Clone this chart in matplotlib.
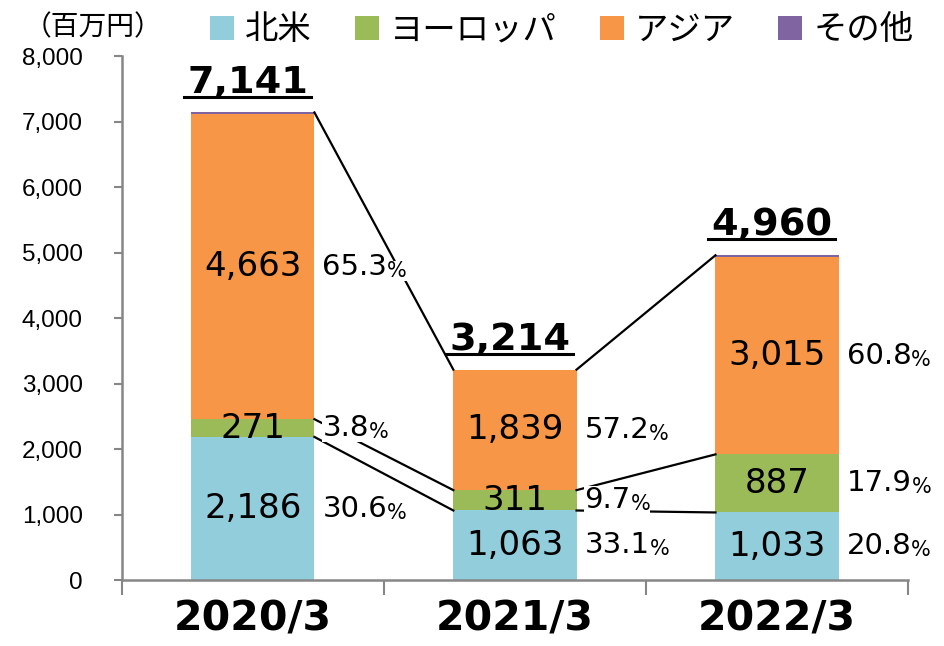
import matplotlib.pyplot as plt
from matplotlib.patches import Patch
from matplotlib.lines import Line2D

years = ['2020/3', '2021/3', '2022/3']
regions = ['北米', 'ヨーロッパ', 'アジア', 'その他']
north_america = [2186, 1063, 1033]
europe = [271, 311, 887]
asia = [4663, 1839, 3015]
other = [21, 1, 25]
totals = [7141, 3214, 4960]
pct_na = ['30.6', '33.1', '20.8']
pct_eu = ['3.8', '9.7', '17.9']
pct_asia = ['65.3', '57.2', '60.8']
colors = ['#92CDDC', '#9BBB59', '#F79646', '#8064A2']

jp = 'Noto Sans CJK JP'
num = 'DejaVu Sans'

fig = plt.figure(figsize=(9.44, 6.46), dpi=100)
ax = fig.add_axes([0.129, 0.102, 0.833, 0.811])

x = list(range(len(years)))
w = 0.47
series = [north_america, europe, asia, other]
bottoms = [0, 0, 0]
tops = []
for vals, c in zip(series, colors):
    ax.bar(x, vals, w, bottom=bottoms, color=c, zorder=2)
    bottoms = [b + v for b, v in zip(bottoms, vals)]
    tops.append(list(bottoms))

# values inside bars + percentages at right
base = [0, 0, 0]
for vals, pcts in zip([north_america, europe, asia], [pct_na, pct_eu, pct_asia]):
    for i in x:
        yc = base[i] + vals[i] / 2
        ax.text(i, yc, f'{vals[i]:,}', ha='center', va='center',
                fontsize=24.5, family=num, zorder=4)
        t = ax.text(i + w / 2 + 0.03, yc, pcts[i], ha='left', va='center',
                    fontsize=21, family=num, zorder=4,
                    bbox=dict(facecolor='white', edgecolor='none', pad=0))
        ax.annotate('%', xy=(1, 0), xycoords=t, ha='left', va='bottom',
                    fontsize=15, family=num, zorder=4,
                    bbox=dict(facecolor='white', edgecolor='none', pad=0))
    base = [b + v for b, v in zip(base, vals)]

# connecting lines
levels = [tops[0], tops[1], totals]
for i in range(len(years) - 1):
    for lv in levels:
        ax.plot([i + w / 2, i + 1 - w / 2], [lv[i], lv[i + 1]],
                color='black', lw=1.6, zorder=3)

# totals with underline
total_texts = []
for i in x:
    t = ax.text(i - 0.02, totals[i] + 180, f'{totals[i]:,}', ha='center', va='bottom',
                fontsize=27.5, fontweight='bold', family=num, zorder=4)
    total_texts.append(t)

ax.set_xlim(-0.5, 2.5)
ax.set_ylim(0, 8000)
ax.set_yticks(range(0, 8001, 1000))
ax.set_yticklabels([f'{v:,}' for v in range(0, 8001, 1000)],
                   family='Liberation Sans', fontsize=17.5)
ax.set_xticks(x)
ax.set_xticklabels(years, fontsize=29.5, fontweight='bold', family=num)
ax.set_xticks([-0.5, 0.5, 1.5, 2.5], minor=True)
ax.tick_params(axis='x', which='major', length=0, pad=14)
ax.tick_params(axis='x', which='minor', length=11, width=1.5, color='#868686')
ax.tick_params(axis='y', length=6, width=1.5, color='#868686', pad=22)
for s in ['top', 'right']:
    ax.spines[s].set_visible(False)
for s in ['left', 'bottom']:
    ax.spines[s].set_color('#868686')
    ax.spines[s].set_linewidth(1.8)

fig.text(0.025, 0.958, '（百万円）', family=jp, fontsize=20, va='center')

handles = [Patch(facecolor=c, edgecolor='none') for c in colors]
fig.legend(handles, regions, ncol=4, loc='center left',
           bbox_to_anchor=(0.222, 0.9536), frameon=False,
           prop={'family': jp, 'size': 24},
           handlelength=0.72, handleheight=0.72, handletextpad=0.33,
           columnspacing=1.3, borderpad=0, borderaxespad=0)

fig.canvas.draw()
r = fig.canvas.get_renderer()
inv = fig.transFigure.inverted()
for t in total_texts:
    bb = t.get_window_extent(r)
    (x0, y0), (x1, y1) = inv.transform([(bb.x0 - 3, bb.y0 + 4), (bb.x1 + 3, bb.y0 + 4)])
    fig.add_artist(Line2D([x0, x1], [y0, y1], color='black', lw=2.2))

fig.savefig('out.png', dpi=100)
